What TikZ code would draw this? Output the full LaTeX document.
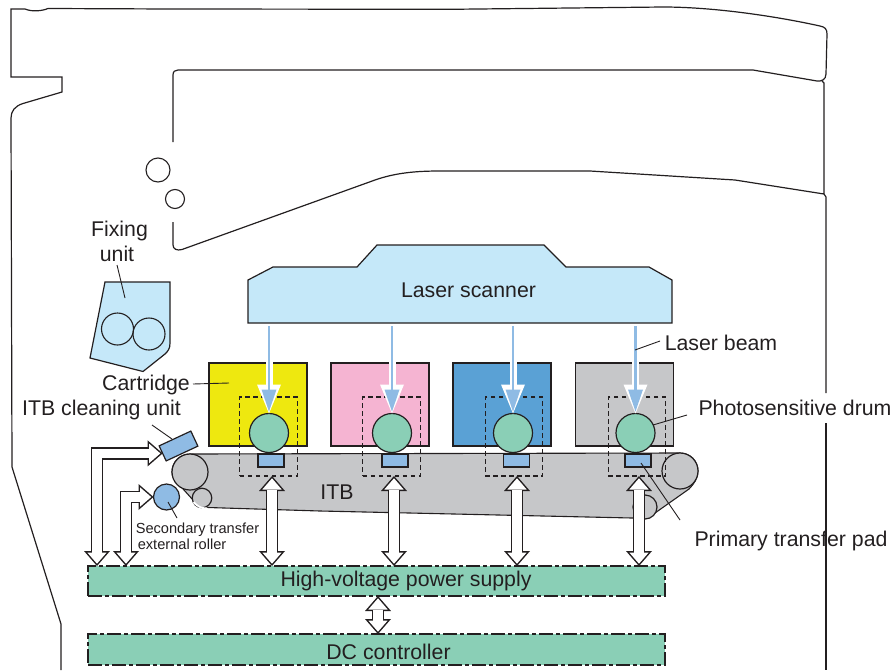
\documentclass[tikz,border=0pt]{standalone}
\usepackage{fontspec}
\setmainfont{Liberation Sans}
\usepackage{xcolor}
\usetikzlibrary{arrows.meta, positioning}
\definecolor{inktext}{HTML}{231F20}
\definecolor{scannerblue}{HTML}{C5E8F9}
\definecolor{padblue}{HTML}{8FBBE4}
\definecolor{drumgreen}{HTML}{8ACFB6}
\definecolor{beltgrey}{HTML}{C6C7C9}
\definecolor{cartyellow}{HTML}{EEE80F}
\definecolor{cartpink}{HTML}{F5B4D2}
\definecolor{cartblue}{HTML}{5AA1D5}

\begin{document}
\begin{tikzpicture}[
  x=1pt, y=-1pt,
  every node/.style={outer sep=0pt, inner sep=0pt, text=inktext},
  caption/.style={font=\fontsize{21.3}{25}\selectfont, align=center},
  smallcaption/.style={font=\fontsize{14.6}{16}\selectfont, align=left},
  shell/.style={draw=inktext, line width=1.2pt},
  leader/.style={draw=inktext, line width=0.9pt},
  cartridge/.style={rectangle, draw=inktext, line width=1.4pt, minimum width=98pt, minimum height=83pt},
  zone/.style={rectangle, draw=inktext, line width=1.2pt, dash pattern=on 4.5pt off 3.5pt, minimum width=57.5pt, minimum height=79pt},
  drum/.style={circle, draw=inktext, line width=1.2pt, fill=drumgreen, minimum size=39pt},
  pad/.style={rectangle, draw=inktext, line width=1.2pt, fill=padblue, minimum width=26pt, minimum height=13pt},
  roller/.style={circle, draw=inktext, line width=1.2pt, fill=beltgrey},
  board/.style={rectangle, draw=inktext, line width=1.1pt, fill=drumgreen, dash pattern=on 14pt off 3pt on 4pt off 3pt, minimum width=577pt},
  hollow/.style={
    preaction={draw=inktext, line width=12.2pt,
      {Triangle[length=15pt, width=26pt, line width=0pt]}-{Triangle[length=15pt, width=26pt, line width=0pt]}},
    draw=white, line width=9.2pt,
    {Triangle[length=11.2pt, width=19.4pt, line width=0pt, sep=2.3pt]}-{Triangle[length=11.2pt, width=19.4pt, line width=0pt, sep=2.3pt]}},
  beam/.style={
    preaction={draw=white, line width=7pt, -{Triangle[length=29pt, width=24pt, line width=0pt]}},
    draw=padblue, line width=2.6pt, -{Triangle[length=22pt, width=15pt, line width=0pt, sep=2pt]}}
]
\useasboundingbox (0,0) rectangle (892,670);

% machine outline
\draw[shell] (173,142) -- (173,75) .. controls (173,71.5) and (175,70) .. (178,70) -- (753,70) -- (817,81)
  .. controls (821,81.5) and (826,80) .. (826,74) -- (827,34) .. controls (827,29) and (825,27) .. (820,26)
  .. controls (770,15) and (710,7) .. (663,7) -- (450,9.3) -- (172,9) -- (48,8.5)
  .. controls (42,11) and (32,12) .. (25,9) -- (11,9) -- (11,77) -- (62,77) -- (62,92) -- (23,103.5)
  .. controls (15,106) and (11,111) .. (11,118) -- (12,467) -- (61,624) -- (61,670);
\draw[shell] (173,222) -- (173,245) .. controls (173,249) and (177,251) .. (182,249.5) -- (375,180)
  .. controls (395,173) and (415,171) .. (440,171) -- (590,171) -- (735,180) -- (824,194) -- (824,83) -- (822,81);
\draw[shell] (824,194) -- (826,197) -- (826,393);
\draw[shell] (826,423) -- (826,670);
\node[circle, draw=inktext, line width=1.1pt, minimum size=24pt] (roller1) at (158,170) {};
\node[circle, draw=inktext, line width=1.1pt, minimum size=19pt] (roller2) at (175,199) {};

% fixing unit
\draw[shell, fill=scannerblue] (105,282) -- (170,282) -- (170,343) .. controls (170,349) and (168,351) .. (165,354)
  -- (143,371.5) -- (90,358) -- cycle;
\node[circle, draw=inktext, line width=1.1pt, minimum size=32pt] (fixroller1) at (117.5,329) {};
\node[circle, draw=inktext, line width=1.1pt, minimum size=32pt] (fixroller2) at (149,334) {};
\node[caption] (fixing) at (117,241.5) {\hspace*{5pt}Fixing\\unit};
\coordinate (fixingtip) at (125,298);
\draw[leader] (117,265) -- (fixingtip);

% laser scanner
\draw[shell, fill=scannerblue] (248,323) -- (248,280) -- (273,267) -- (357,267) -- (377,245) -- (544,245)
  -- (566,267) -- (649,267) -- (672,280) -- (672,323) -- cycle;
\node[caption] (scanner) at (468.5,290.5) {Laser scanner};
\coordinate (scannerbase) at (468,326);

% cartridges
\node[cartridge, fill=cartyellow] (cart1) at (258,404.5) {};
\node[cartridge, fill=cartpink, right=24pt of cart1] (cart2) {};
\node[cartridge, fill=cartblue, right=24pt of cart2] (cart3) {};
\node[cartridge, fill=beltgrey, right=24.5pt of cart3] (cart4) {};

% belt
\draw[draw=inktext, line width=1.1pt, fill=beltgrey] (190,454) -- (680,453) .. controls (690,453) and (698,461) .. (698,471)
  .. controls (698,478) and (694,484) .. (689,489) -- (655,513) .. controls (652,516) and (649,518) .. (645,518)
  -- (632,518) -- (320,511) -- (208,507.5) -- (193,500) -- (175,480)
  .. controls (172,476) and (172,474) .. (172,472) .. controls (172,462) and (180,454) .. (190,454) -- cycle;
\node[roller, minimum size=36pt] (beltleft) at (190,472) {};
\node[roller, minimum size=19.5pt] (beltsmall) at (202,498) {};
\draw[white, line width=1.8pt] (193.5,502) .. controls (197,506) and (201,508.5) .. (207,508.5);
\node[roller, minimum size=36pt] (beltright) at (680,471) {};
\node[roller, minimum size=24pt] (beltsmallright) at (645,507) {};
\node[caption] (itb) at (337,492) {ITB};

% drums, pads
\node[zone] (zone1) at (268.5,436.5) {};
\node[zone] (zone2) at (391.5,436.5) {};
\node[zone] (zone3) at (514,436.5) {};
\node[zone] (zone4) at (637,436.5) {};
\node[pad] (pad1) at (271,460.5) {};
\node[pad] (pad2) at (395,460.5) {};
\node[pad] (pad3) at (516.5,460.5) {};
\node[pad] (pad4) at (638,460.5) {};
\node[drum] (drum1) at (269,433) {};
\node[drum] (drum2) at (392,433) {};
\node[drum] (drum3) at (513,433) {};
\node[drum] (drum4) at (635.5,433) {};

\draw[beam] (drum1.north |- scannerbase) -- (drum1.north);
\draw[beam] (drum2.north |- scannerbase) -- (drum2.north);
\draw[beam] (drum3.north |- scannerbase) -- (drum3.north);
\draw[beam] (drum4.north |- scannerbase) -- (drum4.north);

% boards
\node[board, minimum height=30pt] (hv) at (376.5,581) {};
\node[board, minimum height=31pt] (dc) at (376.5,649.5) {};
\node[caption] (hvtext) at (406,581) {High-voltage power supply};
\node[caption] (dctext) at (388.5,652) {DC controller};

% rollers left of the belt
\node[rectangle, draw=inktext, line width=1.2pt, fill=padblue, minimum width=35pt, minimum height=16.6pt, rotate=25] (cleaning) at (178.5,446) {};
\node[circle, draw=inktext, line width=1.2pt, fill=padblue, minimum size=26pt] (secondary) at (166.5,497) {};

% power connections
\draw[hollow] (hv.north -| 272,0) -- (272,476);
\draw[hollow] (hv.north -| 394,0) -- (394,476);
\draw[hollow] (hv.north -| 517,0) -- (517,476);
\draw[hollow] (hv.north -| 639,0) -- (639,476);
\draw[hollow] (hv.north -| 97,0) |- (cleaning.west);
\draw[hollow] (hv.north -| 126,0) |- (secondary.west);
\draw[hollow] (hv.south -| 378,0) -- (dc.north -| 378,0);

% labels
\node[caption] (cartridge) at (146,385) {Cartridge};
\node[caption] (cleaninglabel) at (101.5,410) {ITB cleaning unit};
\node[caption] (laserbeam) at (721,343) {Laser beam};
\node[caption] (drumlabel) at (795,408) {Photosensitive drum};
\node[caption] (padlabel) at (791,541) {Primary transfer pad};
\node[smallcaption] (secondarylabel) at (197.5,536) {Secondary transfer\\\hspace*{2pt}external roller};

\coordinate (carttip) at (229,383);
\coordinate (sectip) at (168,502);
\coordinate (padtip) at (641,463);
\coordinate (drumtip) at (653,425);
\coordinate (beamtip) at (635,350);
\draw[leader] (193,384) -- (carttip);
\draw[leader] (152,425) -- (172,439);
\draw[leader] (177,518) -- (sectip);
\draw[leader] (680,520) -- (padtip);
\draw[leader] (687,415) -- (drumtip);
\draw[leader] (660,341) -- (beamtip);
\end{tikzpicture}
\end{document}
